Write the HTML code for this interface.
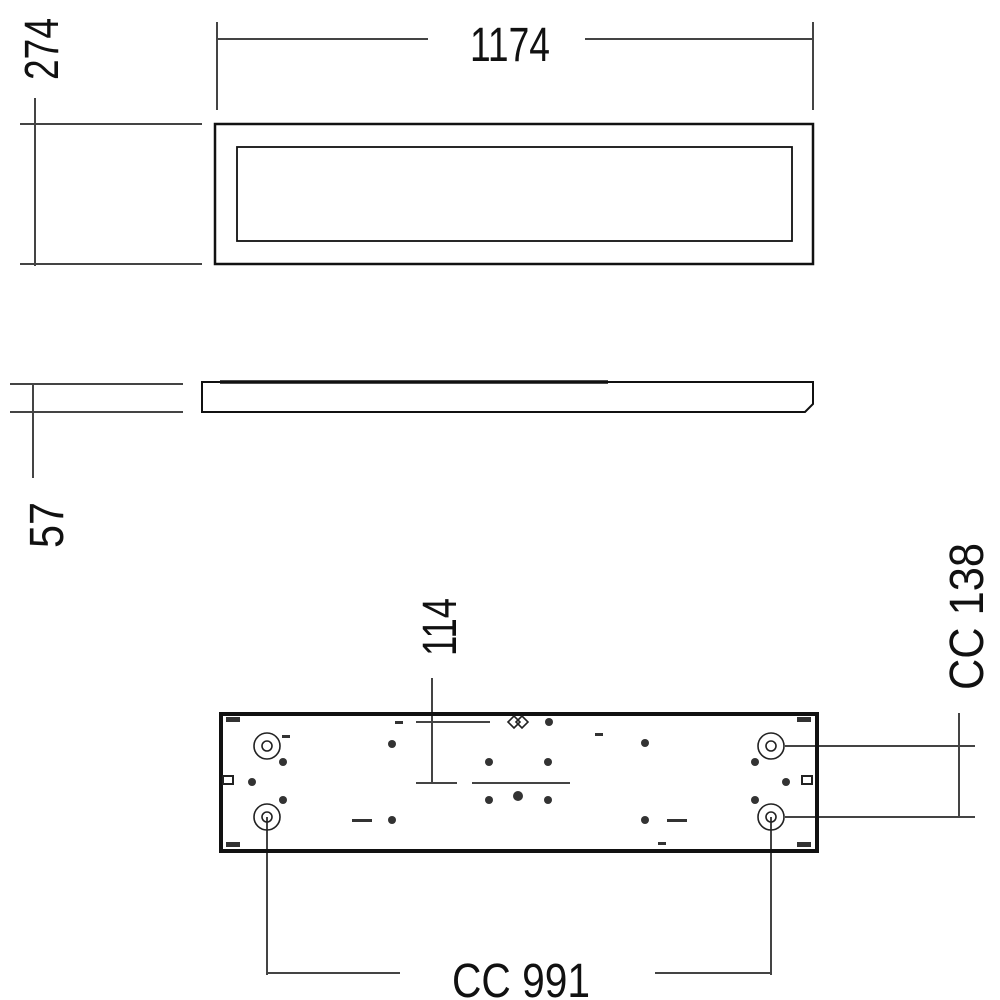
<!DOCTYPE html>
<html><head><style>html,body{margin:0;padding:0;background:#fff}svg{display:block}</style></head>
<body>
<svg width="1000" height="1000" viewBox="0 0 1000 1000" xmlns="http://www.w3.org/2000/svg" font-family="Liberation Sans, sans-serif">
<g stroke="#444" stroke-width="2" fill="none">
<line x1="217" y1="22" x2="217" y2="110"/>
<line x1="813" y1="22" x2="813" y2="110"/>
<line x1="217" y1="39" x2="428" y2="39"/>
<line x1="585" y1="39" x2="813" y2="39"/>
<line x1="35" y1="98" x2="35" y2="266"/>
<line x1="20" y1="124" x2="202" y2="124"/>
<line x1="20" y1="264" x2="202" y2="264"/>
<line x1="10" y1="384" x2="183" y2="384"/>
<line x1="10" y1="412" x2="183" y2="412"/>
<line x1="33" y1="384" x2="33" y2="478"/>
<line x1="432" y1="678" x2="432" y2="783"/>
<line x1="416" y1="783" x2="457" y2="783"/>
<line x1="416" y1="722" x2="490" y2="722"/>
<line x1="472" y1="783" x2="570" y2="783"/>
<line x1="959" y1="713" x2="959" y2="818"/>
<line x1="785" y1="746" x2="975" y2="746"/>
<line x1="785" y1="817" x2="975" y2="817"/>
<line x1="267" y1="817" x2="267" y2="975"/>
<line x1="771" y1="817" x2="771" y2="975"/>
<line x1="267" y1="973" x2="400" y2="973"/>
<line x1="655" y1="973" x2="771" y2="973"/>
</g>
<g stroke="#111" fill="none">
<rect x="215" y="124" width="598" height="140" stroke-width="2.5"/>
<rect x="237" y="147" width="555" height="94" stroke-width="1.8"/>
<path d="M202 382 L813 382 L813 404 L805 412 L202 412 Z" stroke-width="2"/>
<line x1="220" y1="382" x2="608" y2="382" stroke-width="3.5"/>
<rect x="221" y="714" width="596" height="137" stroke-width="4"/>
</g>
<g stroke="#222" fill="none" stroke-width="1.6">
<circle cx="267" cy="746" r="13"/><circle cx="267" cy="746" r="5"/>
<circle cx="267" cy="817" r="13"/><circle cx="267" cy="817" r="5"/>
<circle cx="771" cy="746" r="13"/><circle cx="771" cy="746" r="5"/>
<circle cx="771" cy="817" r="13"/><circle cx="771" cy="817" r="5"/>
<path d="M508 722 l6 -6 l6 6 l-6 6z M516 722 l6 -6 l6 6 l-6 6z"/>
<rect x="223" y="776" width="10" height="8" stroke-width="2"/>
<rect x="802" y="776" width="10" height="8" stroke-width="2"/>
</g>
<g fill="#333">
<circle cx="283" cy="762" r="4"/><circle cx="252" cy="782" r="4"/><circle cx="283" cy="800" r="4"/>
<circle cx="392" cy="744" r="4"/><circle cx="392" cy="820" r="4"/>
<circle cx="489" cy="762" r="4"/><circle cx="548" cy="762" r="4"/>
<circle cx="489" cy="800" r="4"/><circle cx="548" cy="800" r="4"/><circle cx="518" cy="796" r="5"/>
<circle cx="645" cy="743" r="4"/><circle cx="645" cy="820" r="4"/>
<circle cx="755" cy="762" r="4"/><circle cx="786" cy="782" r="4"/><circle cx="755" cy="800" r="4"/>
<circle cx="549" cy="722" r="4"/>
<rect x="352" y="819" width="20" height="3"/><rect x="667" y="819" width="20" height="3"/>
<rect x="226" y="717" width="14" height="5"/><rect x="226" y="842" width="14" height="5"/>
<rect x="797" y="717" width="14" height="5"/><rect x="797" y="842" width="14" height="5"/>
<rect x="282" y="735" width="8" height="3"/><rect x="595" y="733" width="8" height="3"/>
<rect x="658" y="842" width="8" height="3"/><rect x="395" y="721" width="8" height="3"/>
</g>
<g fill="#111" font-size="48">
<text x="510" y="61" text-anchor="middle" textLength="80" lengthAdjust="spacingAndGlyphs">1174</text>
<text transform="translate(58,80) rotate(-90)" textLength="62" lengthAdjust="spacingAndGlyphs">274</text>
<text transform="translate(63,548) rotate(-90)" textLength="46" lengthAdjust="spacingAndGlyphs">57</text>
<text transform="translate(456,656) rotate(-90)" textLength="58" lengthAdjust="spacingAndGlyphs">114</text>
<text transform="translate(983,690) rotate(-90)" textLength="147" lengthAdjust="spacingAndGlyphs">CC  138</text>
<text x="452" y="997" textLength="138" lengthAdjust="spacingAndGlyphs">CC  991</text>
</g>
</svg>
</body></html>
